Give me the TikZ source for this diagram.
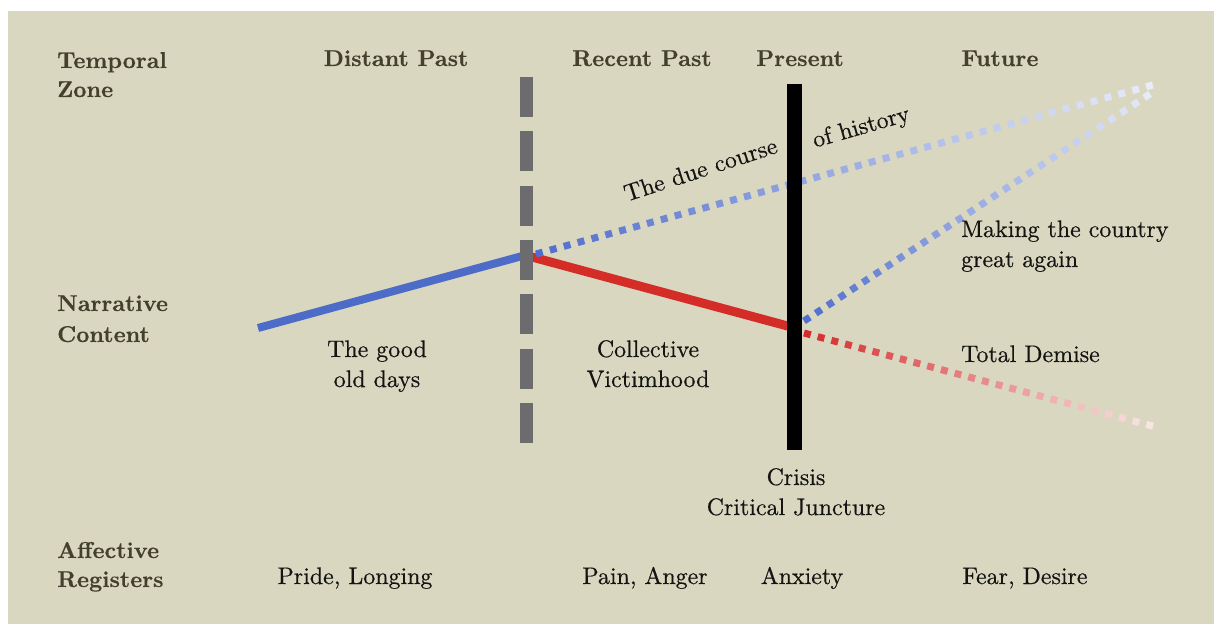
\documentclass[tikz,border=0pt]{standalone}
\usepackage{fontspec}
\newfontfamily\regfont{lmroman10-regular.otf}[FakeBold=0.5]
\newfontfamily\hdfont{lmroman10-bold.otf}[FakeBold=0.3]
\usetikzlibrary{calc}
\definecolor{bg}{RGB}{218,215,193}
\definecolor{headc}{RGB}{68,64,46}
\definecolor{txtc}{RGB}{20,20,18}
\definecolor{solidblue}{RGB}{76,108,200}
\definecolor{dotblue}{RGB}{80,110,205}
\definecolor{solidred}{RGB}{212,44,38}
\definecolor{dotred}{RGB}{212,44,44}
\definecolor{dashgray}{RGB}{108,108,110}
\tikzset{
  head/.style={font=\fontsize{23}{28}\selectfont\hdfont, text=headc, inner sep=0pt},
  lbl/.style={font=\fontsize{24}{30}\selectfont\regfont, text=txtc, inner sep=0pt},
  dotseg/.style={line width=#1, line cap=butt},
}
\begin{document}
\begin{tikzpicture}[x=1bp,y=-1bp]
\useasboundingbox (0,0) rectangle (1214,624);
\fill[white] (0,0) rectangle (1214,624);
\fill[bg] (8,11) rectangle (1214,624);

% key coordinates
\coordinate (start) at (258,328);
\coordinate (junc) at (526,255);
\coordinate (juncR) at (532,257);
\coordinate (crisis) at (795,328);
\coordinate (dueA) at (536,254);
\coordinate (dueB) at (1160,83);
\coordinate (makeA) at (804,321);
\coordinate (makeB) at (1156,90);
\coordinate (demA) at (804,333);
\coordinate (demB) at (1160,428);
\coordinate (dashtop) at (526,77);
\coordinate (dashbot) at (526,444);
\coordinate (prestop) at (794.5,84);
\coordinate (presbot) at (794.5,450);

% solid lines
\draw[solidblue, line width=8bp] (start) -- (junc);
\draw[solidred, line width=9bp] (juncR) -- (crisis);

% fading dotted lines
\foreach \i in {0,...,44}{
  \pgfmathsetmacro\t{\i/45}
  \pgfmathsetmacro\tt{\t+7/649}
  \pgfmathsetmacro\p{int(100-88*\t)}
  \draw[dotblue!\p!white, dotseg=7bp] ($(dueA)!\t!(dueB)$) -- ($(dueA)!\tt!(dueB)$);
}
\foreach \i in {0,...,29}{
  \pgfmathsetmacro\t{\i/30}
  \pgfmathsetmacro\tt{\t+7/424}
  \pgfmathsetmacro\p{int(100-88*\t)}
  \draw[dotblue!\p!white, dotseg=7bp] ($(makeA)!\t!(makeB)$) -- ($(makeA)!\tt!(makeB)$);
}
\foreach \i in {0,...,25}{
  \pgfmathsetmacro\t{\i/26}
  \pgfmathsetmacro\tt{\t+7/370}
  \pgfmathsetmacro\p{int(100-90*\t)}
  \draw[dotred!\p!white, dotseg=7bp] ($(demA)!\t!(demB)$) -- ($(demA)!\tt!(demB)$);
}

% vertical lines
\draw[dashgray, line width=13bp, dash pattern=on 40bp off 14.3bp] (dashtop) -- (dashbot);
\draw[black, line width=15bp] (prestop) -- (presbot);

% row labels
\node[head, anchor=base west] (tz1) at (57,68) {Temporal};
\node[head, anchor=base west] (tz2) at (57,97) {Zone};
\node[head, anchor=base west] (nc1) at (57,311) {Narrative};
\node[head, anchor=base west] (nc2) at (57,342) {Content};
\node[head, anchor=base west] (ar1) at (57,558) {Affective};
\node[head, anchor=base west] (ar2) at (57,587) {Registers};

% column headers
\node[head, anchor=base] (h1) at (396,66) {Distant Past};
\node[head, anchor=base] (h2) at (642,66) {Recent Past};
\node[head, anchor=base] (h3) at (800,66) {Present};
\node[head, anchor=base] (h4) at (1000,66) {Future};

% narrative labels
\node[lbl, anchor=base] (g1) at (377,357) {The good};
\node[lbl, anchor=base] (g2) at (377,387) {old days};
\node[lbl, anchor=base] (v1) at (648,357) {Collective};
\node[lbl, anchor=base] (v2) at (648,387) {Victimhood};
\node[lbl, anchor=base west] (m1) at (961,237) {Making the country};
\node[lbl, anchor=base west] (m2) at (961,267) {great again};
\node[lbl, anchor=base west] (td) at (961,362) {Total Demise};
\node[lbl, anchor=base] (c1) at (796,485) {Crisis};
\node[lbl, anchor=base] (c2) at (796,515) {Critical Juncture};
\node[lbl, anchor=base, rotate=18] (due1) at (703,177) {The due course};
\node[lbl, anchor=base, rotate=16] (due2) at (863,134) {of history};

% affective registers
\node[lbl, anchor=base] (a1) at (355,584) {Pride, Longing};
\node[lbl, anchor=base] (a2) at (645,584) {Pain, Anger};
\node[lbl, anchor=base] (a3) at (802,584) {Anxiety};
\node[lbl, anchor=base] (a4) at (1025,584) {Fear, Desire};
\end{tikzpicture}
\end{document}
